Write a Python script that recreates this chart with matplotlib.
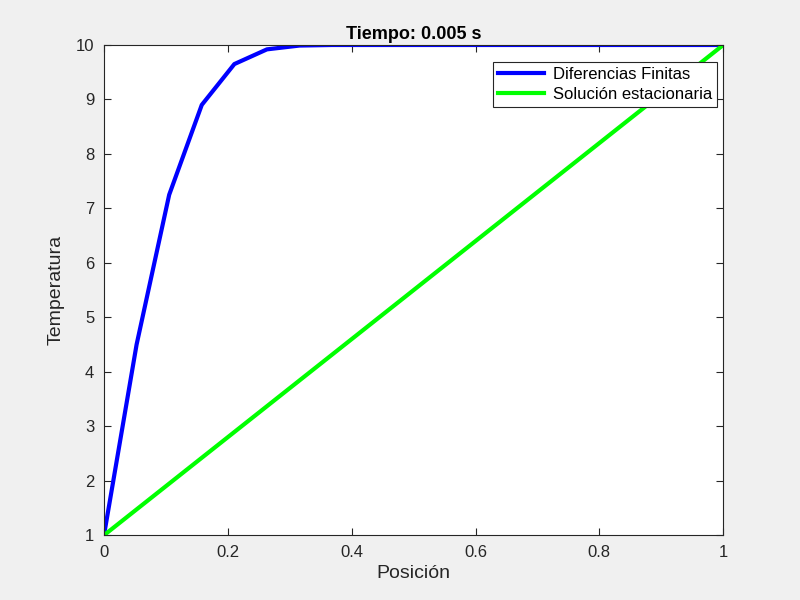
import matplotlib.pyplot as plt
import numpy as np

# Datos
posicion = np.linspace(0, 1, 20)
temp_df = [1, 4.5, 7.25, 8.9, 9.65, 9.92, 9.99, 10, 10, 10,
           10, 10, 10, 10, 10, 10, 10, 10, 10, 10]
pos_est = [0, 1]
temp_est = [1, 10]

plt.rcParams['font.family'] = ['Liberation Sans', 'DejaVu Sans']

fig = plt.figure(figsize=(8, 6), dpi=100, facecolor='#f0f0f0')
ax = fig.add_axes([0.13, 0.108, 0.774, 0.817])
ax.set_facecolor('white')

ax.plot(posicion, temp_df, color='#0000ff', lw=3, label='Diferencias Finitas')
ax.plot(pos_est, temp_est, color='#00ff00', lw=3, label='Solución estacionaria')

ax.set_xlim(0, 1)
ax.set_ylim(1, 10)
ax.set_xticks([0, 0.2, 0.4, 0.6, 0.8, 1])
ax.set_xticklabels(['0', '0.2', '0.4', '0.6', '0.8', '1'])
ax.set_yticks(range(1, 11))
ax.tick_params(direction='in', labelsize=12, colors='#262626', top=True, right=True,
               length=5, pad=7)
for s in ax.spines.values():
    s.set_color('#262626')
    s.set_linewidth(0.8)

ax.set_xlabel('Posición', fontsize=14, color='#262626', labelpad=4)
ax.set_ylabel('Temperatura', fontsize=14, color='#262626', labelpad=8)
ax.set_title('Tiempo: 0.005 s', fontsize=13, fontweight='bold', pad=4)

leg = ax.legend(loc='upper right', bbox_to_anchor=(0.99, 0.965), fontsize=12,
                fancybox=False, framealpha=1, edgecolor='#262626',
                borderpad=0.3, labelspacing=0.3, handlelength=2.8, handletextpad=0.5,
                borderaxespad=0)
leg.get_frame().set_linewidth(0.8)

fig.savefig('out.png', dpi=100, facecolor=fig.get_facecolor())
